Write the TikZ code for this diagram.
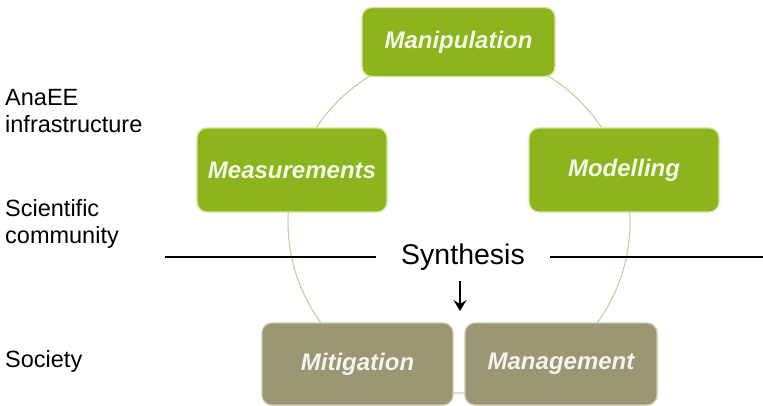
\documentclass[tikz,border=0pt]{standalone}
\usepackage{fontspec}
\setmainfont{Liberation Sans}
\usetikzlibrary{arrows.meta}
\definecolor{boxgreen}{HTML}{8CB41E}
\definecolor{greenedge}{HTML}{D2E89A}
\definecolor{boxolive}{HTML}{9B9673}
\definecolor{oliveedge}{HTML}{C9C6AE}
\definecolor{ringcol}{HTML}{C8CE9E}
\definecolor{greentext}{HTML}{F2F8E4}
\definecolor{olivetext}{HTML}{F4F3EC}
\begin{document}
\begin{tikzpicture}[x=1pt,y=-1pt,
  greenbox/.style={draw=greenedge, line width=1.2pt, fill=boxgreen, rounded corners=10pt,
    text=greentext, font=\fontsize{24}{28}\selectfont\bfseries\itshape, inner sep=0pt},
  olivebox/.style={draw=oliveedge, line width=1.2pt, fill=boxolive, rounded corners=10pt,
    text=olivetext, font=\fontsize{24}{28}\selectfont\bfseries\itshape, inner sep=0pt},
  sidelabel/.style={anchor=base west, align=left, font=\fontsize{23.5}{27}\selectfont, inner sep=0pt},
  divider/.style={line width=2pt, black}]
\useasboundingbox (0,0) rectangle (763,405);
% ring behind the boxes
\draw[ringcol, line width=1.1pt] (459,222) circle[radius=171];
% boxes
\node[greenbox, minimum width=193, minimum height=69] (manip) at (458.5,42) {Manipulation};
\node[greenbox, minimum width=190, minimum height=84] (meas) at (292,170) {Measurements};
\node[greenbox, minimum width=190, minimum height=84] (model) at (624,170) {Modelling};
\node[olivebox, minimum width=191, minimum height=82] (mitig) at (357.5,364) {Mitigation};
\node[olivebox, minimum width=192, minimum height=82] (manag) at (561,364) {Management};
% synthesis line
\node[font=\fontsize{28.5}{32}\selectfont, inner xsep=25pt, inner ysep=0pt] (syn) at (463,257) {Synthesis};
\coordinate (lstart) at (165,257);
\coordinate (rend) at (763,257);
\draw[divider] (lstart) -- (syn.west);
\draw[divider] (syn.east) -- (rend);
\coordinate (arrs) at (460,281);
\coordinate (arre) at (460,311);
\draw[line width=2.2pt, -{Stealth[length=11pt,width=13pt,inset=4pt]}] (arrs) -- (arre);
% side labels
\node[sidelabel] (ana) at (5,132) {AnaEE\\infrastructure};
\node[sidelabel] (sci) at (5,243) {Scientific\\community};
\node[sidelabel] (soc) at (5,367) {Society};
\end{tikzpicture}
\end{document}
